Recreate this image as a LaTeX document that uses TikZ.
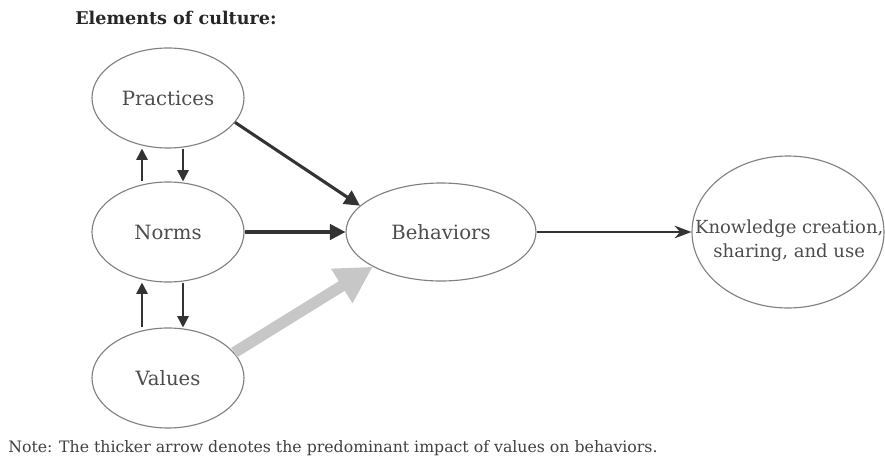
\documentclass[tikz,border=0pt]{standalone}
\usepackage{fontspec}
\setmainfont{DejaVu Serif}
\usepackage{tikz}
\usetikzlibrary{positioning,shapes.geometric,arrows.meta}
\tikzstyle{oval} = [ellipse, draw=black!50, line width=0.8pt, minimum width=3.8cm, minimum height=2.5cm, text=black!70, font=\fontsize{14}{16}\selectfont]
\tikzstyle{link} = [draw=black!80, line width=2.2pt, -{Triangle[length=11pt,width=11pt]}]
\tikzstyle{small} = [draw=black!80, line width=1.4pt, -{Triangle[length=8pt,width=8pt]}]

\begin{document}
\begin{tikzpicture}[node distance=3.35cm]
			\useasboundingbox (-4.2,-5.85) rectangle (17.925,5.8);
			\node (norms) [oval] {Norms};
			\node (pract) [oval, above of=norms] {Practices};
			\node (values) [oval, below of=norms, node distance=3.65cm] {Values};
			\node (behav) [oval, right of=norms, node distance=6.825cm, minimum width=4.75cm, minimum height=2.45cm] {Behaviors};
			\node (know) [oval, right of=behav, node distance=8.675cm, minimum width=4.8cm, minimum height=3.8cm,
				label={[align=center, text=black!70, font=\fontsize{12.8}{17}\selectfont, yshift=-0.22cm, xshift=0.03cm]center:Knowledge creation,\\sharing, and use}] {};
			
			\node (title) [anchor=west, inner sep=0pt, font=\bfseries\fontsize{12.5}{14}\selectfont, text=black!85] at (-2.325,5.35) {Elements of culture:};
			\node (note) [anchor=west, inner sep=0pt, font=\fontsize{11.2}{13}\selectfont, text=black!75] at (-4.0,-5.4) {Note: The thicker arrow denotes the predominant impact of values on behaviors.};
			
			\draw[small] ([xshift=-0.65cm]norms.north) -- ([xshift=-0.65cm]pract.south);
			\draw[small] ([xshift=0.375cm]pract.south) -- ([xshift=0.375cm]norms.north);
			\draw[small] ([xshift=-0.65cm]values.north) -- ([xshift=-0.65cm]norms.south);
			\draw[small] ([xshift=0.375cm]norms.south) -- ([xshift=0.375cm]values.north);
			
			\draw[link] (pract.-20) -- (behav.162);
			\draw[link] (norms.east) -- (behav.west);
			\draw[draw=black!22, line width=8pt, -{Triangle[length=26pt,width=27pt]}] (values.21) -- (behav.207);
			\draw[draw=black!80, line width=1.5pt, -{Stealth[length=12pt,width=9pt]}] (behav.east) -- (know.west);
			
\end{tikzpicture}
\end{document}
